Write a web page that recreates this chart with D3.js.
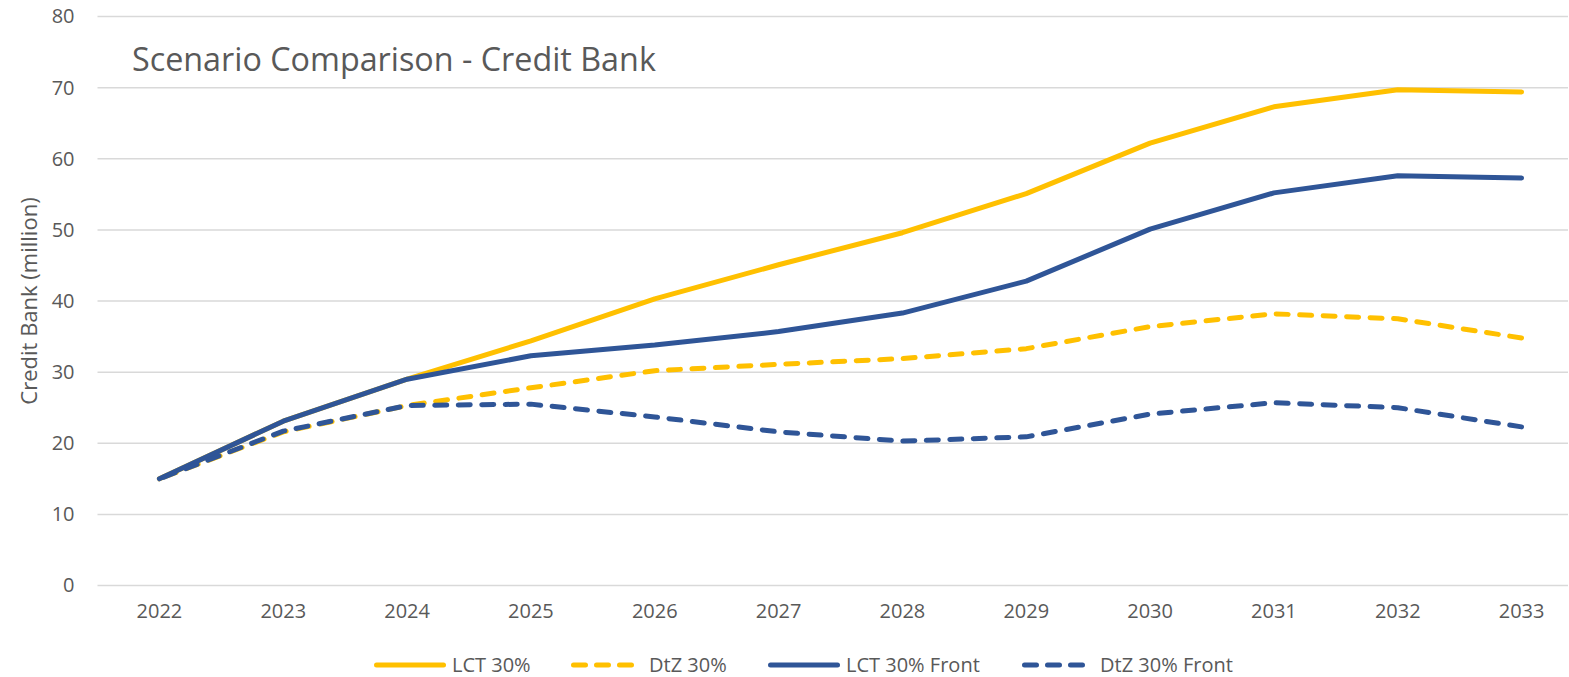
<!DOCTYPE html>
<html>
<head>
<meta charset="utf-8">
<script src="https://cdn.jsdelivr.net/npm/d3@7"></script>
<style>
  body { margin: 0; background: #fff; }
  svg { display: block; font-family: "Open Sans", sans-serif; }
</style>
</head>
<body>
<div id="chart"></div>
<script>
// data
const years = ['2022', '2023', '2024', '2025', '2026', '2027', '2028', '2029', '2030', '2031', '2032', '2033'];
const lct30 = [15, 23.1, 29.0, 34.4, 40.3, 45.1, 49.6, 55.1, 62.2, 67.3, 69.7, 69.4];
const dtz30 = [15, 21.6, 25.3, 27.8, 30.2, 31.1, 31.9, 33.3, 36.4, 38.2, 37.5, 34.8];
const lct30Front = [15, 23.1, 29.0, 32.3, 33.8, 35.7, 38.3, 42.8, 50.1, 55.2, 57.6, 57.3];
const dtz30Front = [15, 21.7, 25.3, 25.5, 23.7, 21.6, 20.3, 20.9, 24.1, 25.7, 25.0, 22.3];
const yTicks = [0, 10, 20, 30, 40, 50, 60, 70, 80];

const series = [
  { name: 'LCT 30%', values: lct30, color: '#FFC000', dashed: false },
  { name: 'DtZ 30%', values: dtz30, color: '#FFC000', dashed: true },
  { name: 'LCT 30% Front', values: lct30Front, color: '#2F5597', dashed: false },
  { name: 'DtZ 30% Front', values: dtz30Front, color: '#2F5597', dashed: true },
];

const width = 1569;
const height = 677;
const plotLeft = 97.5, plotRight = 1568;
const textColor = '#595959';

const svg = d3.select('#chart')
  .append('svg')
  .attr('width', width)
  .attr('height', height);

const x = d3.scaleBand()
  .domain(years)
  .range([plotLeft, 1583.5]);

const y = d3.scaleLinear()
  .domain([0, 80])
  .range([585.5, 16.5]);

// gridlines
svg.append('g')
  .selectAll('line')
  .data(yTicks)
  .enter()
  .append('line')
  .attr('x1', plotLeft)
  .attr('x2', plotRight)
  .attr('y1', d => y(d))
  .attr('y2', d => y(d))
  .attr('stroke', '#D9D9D9')
  .attr('stroke-width', 1.5);

// y axis
const yAxis = svg.append('g')
  .attr('transform', `translate(${plotLeft}, 0)`)
  .call(d3.axisLeft(y).tickValues(yTicks).tickSize(0).tickPadding(23));
yAxis.select('.domain').remove();
yAxis.selectAll('text')
  .attr('fill', textColor)
  .style('font-size', '20px')
  .style('font-family', '"Open Sans", sans-serif');

// x axis
const xAxis = svg.append('g')
  .attr('transform', `translate(0, ${y(0)})`)
  .call(d3.axisBottom(x).tickSize(0).tickPadding(18));
xAxis.select('.domain').remove();
xAxis.selectAll('text')
  .attr('fill', textColor)
  .style('font-size', '20px')
  .style('font-family', '"Open Sans", sans-serif');

// lines
const line = d3.line()
  .x((d, i) => x(years[i]) + x.bandwidth() / 2)
  .y(d => y(d));

const dash = 12, gap = 11.5;

svg.append('g')
  .selectAll('path')
  .data(series)
  .enter()
  .append('path')
  .attr('d', d => line(d.values))
  .attr('fill', 'none')
  .attr('stroke', d => d.color)
  .attr('stroke-width', 5)
  .attr('stroke-linejoin', 'round')
  .attr('stroke-linecap', 'round')
  .attr('stroke-dasharray', d => d.dashed ? `${dash},${gap}` : null)
  .each(function(d) {
    // let the dash pattern finish on a dash at the last point
    if (!d.dashed) return;
    const len = this.getTotalLength();
    d3.select(this).attr('stroke-dashoffset', dash - (len % (dash + gap)));
  });

// title
svg.append('text')
  .attr('x', 132)
  .attr('y', 71)
  .attr('fill', textColor)
  .style('font-size', '32.3px')
  .text('Scenario Comparison - Credit Bank');

// y label
svg.append('text')
  .attr('transform', 'translate(37, 301) rotate(-90)')
  .attr('text-anchor', 'middle')
  .attr('fill', textColor)
  .style('font-size', '22px')
  .text('Credit Bank (million)');

// legend
const legendX = [374, 571, 768, 1022];
const legend = svg.append('g')
  .selectAll('g')
  .data(series)
  .enter()
  .append('g')
  .attr('transform', (d, i) => `translate(${legendX[i]}, 665)`);

legend.append('line')
  .attr('x1', 2.5)
  .attr('x2', d => d.dashed ? 61.5 : 69.5)
  .attr('stroke', d => d.color)
  .attr('stroke-width', 5)
  .attr('stroke-linecap', 'round')
  .attr('stroke-dasharray', d => d.dashed ? '12,11' : null);

legend.append('text')
  .attr('x', 78)
  .attr('dy', '0.35em')
  .attr('fill', textColor)
  .style('font-size', '20px')
  .text(d => d.name);
</script>
</body>
</html>
